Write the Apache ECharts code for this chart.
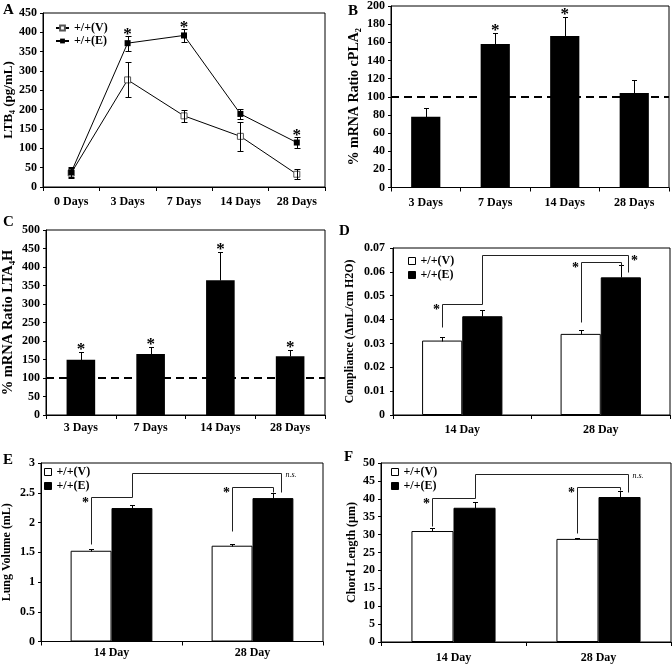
<!DOCTYPE html>
<html><head><meta charset="utf-8">
<script src="https://cdn.jsdelivr.net/npm/echarts@6/dist/echarts.min.js"></script>
<style>html,body{margin:0;padding:0;background:#fff}#c{width:672px;height:664px}</style>
</head><body><div id="c"></div>
<script>
// ---------- Panel A: LTB4 ----------
const daysA = ['0 Days', '3 Days', '7 Days', '14 Days', '28 Days'];
const ltb4V = [36, 277, 184, 131, 33];
const ltb4VErr = [13, 45, 16, 38, 13];
const ltb4E = [38, 372, 392, 189, 115];
const ltb4EErr = [13, 19, 17, 12, 14];
const starsA = [1, 2, 4];
const ticksA = [0, 450, 50];

// ---------- Panels B, C ----------
const daysBC = ['3 Days', '7 Days', '14 Days', '28 Days'];
const cpla2 = [78, 158, 167, 104];
const cpla2Err = [10, 12, 21, 14];
const starsB = [1, 2];
const ticksB = [0, 200, 20];
const lta4h = [149, 165, 364, 159];
const lta4hErr = [20, 18, 76, 17];
const starsC = [0, 1, 2, 3];
const ticksC = [0, 500, 50];
const refLevel = 100;

// ---------- Panels D, E, F ----------
const daysDEF = ['14 Day', '28 Day'];
const complV = [0.0312, 0.0340];
const complVErr = [0.0015, 0.0018];
const complE = [0.0414, 0.0577];
const complEErr = [0.0025, 0.0053];
const ticksD = [0, 0.07, 0.01];
const volV = [1.525, 1.61];
const volVErr = [0.03, 0.03];
const volE = [2.243, 2.41];
const volEErr = [0.056, 0.08];
const ticksE = [0, 3, 0.5];
const chordV = [31.0, 28.8];
const chordVErr = [0.9, 0.3];
const chordE = [37.5, 40.5];
const chordEErr = [1.7, 1.7];
const ticksF = [0, 50, 5];

// brackets: [fromCat, fromGroup, fromY, topY, toCat, toGroup, toY, mark, markSide]
const bracketsD = [
  [0, 'V', 0.0367, 0.0466, 0, 'E', 0.0466, '*', 'left'],
  [0, 'E', 0.0466, 0.0670, 1, 'X', 0.0600, '*', 'right'],
  [1, 'V', 0.0390, 0.0642, 1, 'E', 0.0630, '*', 'left']
];
const bracketsE = [
  [0, 'V', 1.64, 2.43, 0, 'E', 2.43, '*', 'left'],
  [0, 'E', 2.43, 2.84, 1, 'X', 2.52, 'n.s.', 'right'],
  [1, 'V', 1.86, 2.60, 1, 'E', 2.52, '*', 'left']
];
const bracketsF = [
  [0, 'V', 32.4, 40.2, 0, 'E', 40.2, '*', 'left'],
  [0, 'E', 40.2, 46.8, 1, 'X', 42.0, 'n.s.', 'right'],
  [1, 'V', 30.4, 43.2, 1, 'E', 42.5, '*', 'left']
];

const FF = '"Liberation Serif", "Times New Roman", serif';
const PAIR_W = 0.29;   // bar width fraction in D-F

function crisp(v) { return Math.round(v) + 0.5; }

function errSeries(gi, vals, errs, offset, both, capW) {
  return {
    type: 'custom', xAxisIndex: gi, yAxisIndex: gi, silent: true, z: 5,
    data: vals.map((v, i) => [i, v, errs[i]]),
    encode: { x: 0, y: 1 },
    renderItem(p, api) {
      const i = api.value(0), v = api.value(1), e = api.value(2);
      const bw = api.size([1, 0])[0];
      const hi = api.coord([i, v + e]);
      const lo = api.coord([i, both ? v - e : v]);
      const x = crisp(hi[0] + offset * bw);
      const yh = crisp(hi[1]), yl = crisp(lo[1]);
      const st = { stroke: '#000', lineWidth: 1 };
      const ch = [
        { type: 'line', shape: { x1: x, y1: yl, x2: x, y2: yh }, style: st },
        { type: 'line', shape: { x1: x - capW / 2, y1: yh, x2: x + capW / 2, y2: yh }, style: st }
      ];
      if (both) ch.push({ type: 'line', shape: { x1: x - capW / 2, y1: yl, x2: x + capW / 2, y2: yl }, style: st });
      return { type: 'group', children: ch };
    }
  };
}

function starSeries(gi, cats, vals, errs, fs, dy) {
  return {
    type: 'custom', xAxisIndex: gi, yAxisIndex: gi, silent: true, z: 6,
    data: cats.map(i => [i, vals[i] + errs[i]]),
    renderItem(p, api) {
      const c = api.coord([api.value(0), api.value(1)]);
      return { type: 'text', x: c[0], y: c[1] + dy,
        style: { text: '*', fill: '#000', font: 'bold ' + fs + 'px ' + FF, align: 'center', verticalAlign: 'bottom' } };
    }
  };
}

function bracketSeries(gi, brs, fs) {
  const offs = { V: -PAIR_W / 2, E: PAIR_W / 2, X: PAIR_W / 2 + 0.055 };
  return {
    type: 'custom', xAxisIndex: gi, yAxisIndex: gi, silent: true, z: 7, clip: false,
    data: brs.map(b => [b[0], b[3]]),
    renderItem(p, api) {
      const b = brs[p.dataIndex];
      const bw = api.size([1, 0])[0];
      const pt = (cat, g, y) => { const c = api.coord([cat, y]); return [crisp(c[0] + offs[g] * bw), crisp(c[1])]; };
      const p1 = pt(b[0], b[1], b[2]), p2 = pt(b[0], b[1], b[3]), p3 = pt(b[4], b[5], b[3]), p4 = pt(b[4], b[5], b[6]);
      const ch = [{ type: 'polyline', shape: { points: [p1, p2, p3, p4] }, style: { stroke: '#222', lineWidth: 1, fill: null } }];
      if (b[7] === '*') {
        const left = b[8] === 'left';
        ch.push({ type: 'text', x: left ? p2[0] - 6 : p3[0] + 6, y: (left ? p2[1] : p3[1]) - 1,
          style: { text: '*', fill: '#000', font: 'bold ' + fs + 'px ' + FF, align: 'center', verticalAlign: 'top' } });
      } else {
        ch.push({ type: 'text', x: p3[0] + 4, y: p3[1] - 3,
          style: { text: b[7], fill: '#000', font: 'italic 8px ' + FF, align: 'left', verticalAlign: 'top' } });
      }
      return { type: 'group', children: ch };
    }
  };
}

const grids = [
  { left: 43, top: 13, width: 282, height: 174 },
  { left: 391, top: 4, width: 278, height: 183.5 },
  { left: 45, top: 230, width: 280, height: 185 },
  { left: 393, top: 248, width: 277, height: 167 },
  { left: 38, top: 463, width: 285, height: 178.5 },
  { left: 381, top: 463, width: 290, height: 179 }
].map(g => Object.assign({ show: true, borderColor: '#000', borderWidth: 1, backgroundColor: 'transparent' }, g));

const catsList = [daysA, daysBC, daysBC, daysDEF, daysDEF, daysDEF];
const xMargins = [9, 9, 7, 9, 5, 10];
const xAxes = catsList.map((cats, gi) => ({
  type: 'category', gridIndex: gi, data: cats, boundaryGap: true,
  axisLine: { lineStyle: { color: '#000', width: 1 } },
  axisTick: { show: true, length: 4, lineStyle: { color: '#000' } },
  axisLabel: { color: '#000', fontFamily: FF, fontWeight: 'bold', fontSize: 12, margin: xMargins[gi] },
  splitLine: { show: false }
}));

const tickList = [ticksA, ticksB, ticksC, ticksD, ticksE, ticksF];
const yNames = ['LTB\u2084 (pg/mL)', '% mRNA Ratio cPLA\u2082', '% mRNA Ratio LTA\u2084H',
  'Compliance (\u0394mL/cm H2O)', 'Lung Volume (mL)', 'Chord Length (\u00b5m)'];
const nameGaps = [26, 30, 30, 37, 28, 23];
const nameSizes = [13, 14, 14.5, 12, 12, 12];
const yMargins = [6, 6, 6, 8, 6, 6];
const yAxes = tickList.map((t, gi) => ({
  type: 'value', gridIndex: gi, min: t[0], max: t[1], interval: t[2],
  name: yNames[gi], nameLocation: 'middle', nameGap: nameGaps[gi],
  nameTextStyle: { color: '#000', fontFamily: FF, fontWeight: 'bold', fontSize: nameSizes[gi] },
  axisLine: { show: true, lineStyle: { color: '#000', width: 1 } },
  axisTick: { show: true, length: 3, lineStyle: { color: '#000' } },
  axisLabel: { color: '#000', fontFamily: FF, fontWeight: 'bold', fontSize: 12, margin: yMargins[gi] },
  splitLine: { show: false }
}));

const dash = {
  silent: true, symbol: 'none', label: { show: false },
  lineStyle: { type: [8, 5], color: '#000', width: 2 },
  data: [{ yAxis: refLevel }]
};

const series = [
  // A
  { name: 'A_V', type: 'line', xAxisIndex: 0, yAxisIndex: 0, data: ltb4V, symbol: 'rect', symbolSize: 6,
    lineStyle: { color: '#000', width: 1 }, itemStyle: { color: '#fff', borderColor: '#555', borderWidth: 1 }, z: 3 },
  { name: 'A_E', type: 'line', xAxisIndex: 0, yAxisIndex: 0, data: ltb4E, symbol: 'rect', symbolSize: 6,
    lineStyle: { color: '#000', width: 1 }, itemStyle: { color: '#000' }, z: 3 },
  errSeries(0, ltb4V, ltb4VErr, 0, true, 6),
  errSeries(0, ltb4E, ltb4EErr, 0, true, 6),
  starSeries(0, starsA, ltb4E, ltb4EErr, 17, 7),
  // B
  { name: 'B', type: 'bar', xAxisIndex: 1, yAxisIndex: 1, data: cpla2, barWidth: '42%',
    itemStyle: { color: '#000' }, markLine: dash },
  errSeries(1, cpla2, cpla2Err, 0, false, 5),
  starSeries(1, starsB, cpla2, cpla2Err, 17, 6),
  // C
  { name: 'C', type: 'bar', xAxisIndex: 2, yAxisIndex: 2, data: lta4h, barWidth: '41%',
    itemStyle: { color: '#000' }, markLine: dash },
  errSeries(2, lta4h, lta4hErr, 0, false, 5),
  starSeries(2, starsC, lta4h, lta4hErr, 17, 6)
];

const pairPanels = [
  [3, 'D', complV, complVErr, complE, complEErr, bracketsD],
  [4, 'E', volV, volVErr, volE, volEErr, bracketsE],
  [5, 'F', chordV, chordVErr, chordE, chordEErr, bracketsF]
];
pairPanels.forEach(([gi, k, v, ve, e, ee, br]) => {
  series.push(
    { name: k + '_V', type: 'bar', xAxisIndex: gi, yAxisIndex: gi, data: v, barWidth: (PAIR_W * 100) + '%', barGap: '0%',
      itemStyle: { color: '#fff', borderColor: '#000', borderWidth: 1 } },
    { name: k + '_E', type: 'bar', xAxisIndex: gi, yAxisIndex: gi, data: e, barWidth: (PAIR_W * 100) + '%', barGap: '0%',
      itemStyle: { color: '#000', borderColor: '#000', borderWidth: 1 } },
    errSeries(gi, v, ve, -PAIR_W / 2, false, 5),
    errSeries(gi, e, ee, PAIR_W / 2, false, 5),
    bracketSeries(gi, br, 14)
  );
});

const legFmt = n => n.endsWith('V') ? '+/+(V)' : '+/+(E)';
const legText = { color: '#000', fontFamily: FF, fontWeight: 'bold', fontSize: 12, lineHeight: 12 };
const sqV = { icon: 'rect', itemStyle: { color: '#fff', borderColor: '#000', borderWidth: 1 } };
const sqE = { icon: 'rect', itemStyle: { color: '#000', borderColor: '#000', borderWidth: 1 } };
const legends = [
  { left: 55, top: 22, padding: 0, orient: 'vertical', itemWidth: 13, itemHeight: 6, itemGap: 1, formatter: legFmt, textStyle: legText,
    selectedMode: false, data: ['A_V', 'A_E'] },
  ...[['D', 408, 255], ['E', 44, 466], ['F', 391, 466]].map(([k, l, t]) => ({
    left: l, top: t, padding: 0, orient: 'vertical', itemWidth: 7, itemHeight: 7, itemGap: 2, formatter: legFmt, textStyle: legText,
    selectedMode: false,
    data: [Object.assign({ name: k + '_V' }, sqV), Object.assign({ name: k + '_E' }, sqE)]
  }))
];

const letterPos = [['A', 3, 3], ['B', 348, 4], ['C', 3, 215], ['D', 339, 224], ['E', 3, 453], ['F', 344, 450]];
const titles = letterPos.map(([t, l, tp]) => ({ text: t, left: l, top: tp, padding: 0,
  textStyle: { color: '#000', fontFamily: FF, fontWeight: 'bold', fontSize: 15 } }));

const chart = echarts.init(document.getElementById('c'), null, { renderer: 'canvas' });
chart.setOption({
  animation: false, backgroundColor: '#fff',
  title: titles, legend: legends, grid: grids, xAxis: xAxes, yAxis: yAxes, series: series
});
</script></body></html>
